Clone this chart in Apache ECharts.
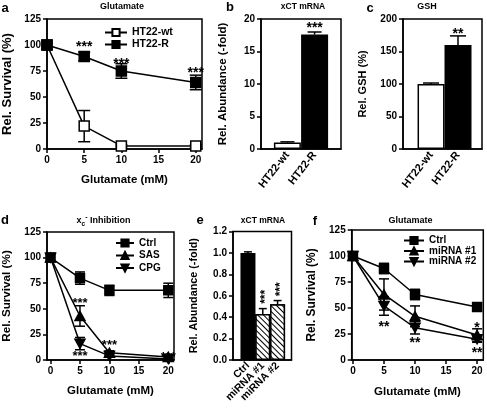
<!DOCTYPE html>
<html><head><meta charset="utf-8">
<script src="https://cdn.jsdelivr.net/npm/echarts@6/dist/echarts.min.js"></script>
<style>html,body{margin:0;padding:0;background:#fff}#c{width:487px;height:409px}</style>
</head><body><div id="c"></div>
<script>
// ---------- data ----------
const ticksX = [0, 5, 10, 15, 20];
// panel a
const concA = [0, 5, 10, 20];
const wtA = [100, 22, 3, 3];
const wtAErr = [0, 15, 1, 1];
const rA = [100, 89, 75, 64];
const rAErr = [0, 4, 7, 7];
const starAX = [5, 10, 20];
const starAY = [101, 85, 76];
const starAText = ['***', '***', '***'];
// panel b
const catsB = ['HT22-wt', 'HT22-R'];
const valB = [1.0, 17.6];
const errB = [0.1, 0.4];
const starBX = [2];
const starBY = [19.1];
const starBText = ['***'];
// panel c
const catsC = ['HT22-wt', 'HT22-R'];
const valC = [100, 160];
const errC = [1.5, 14];
const starCX = [2];
const starCY = [181];
const starCText = ['**'];
// panel d
const concD = [0, 5, 10, 20];
const ctrlD = [100, 80, 68, 68];
const ctrlDErr = [0, 6, 5, 7];
const sasD = [100, 43, 7, 3];
const sasDErr = [0, 10, 2, 1];
const cpgD = [100, 16, 4, 1];
const cpgDErr = [0, 6, 1, 1];
const starDX = [5, 5, 10, 20];
const starDY = [58, 6, 17, 5];
const starDText = ['***', '***', '***', '***'];
// panel e
const catsE = ['Ctrl', 'miRNA #1', 'miRNA #2'];
const valE = [1.0, 0.43, 0.52];
const errE = [0.01, 0.05, 0.035];
const starEX = [2, 3];
const starEY = [0.59, 0.66];
const starEText = ['***', '***'];
// panel f
const concF = [0, 5, 10, 20];
const ctrlF = [100, 88, 63, 51];
const ctrlFErr = [0, 5, 5, 4];
const m1F = [100, 63, 42, 24];
const m1FErr = [0, 15, 10, 6];
const m2F = [100, 52, 31, 20];
const m2FErr = [0, 9, 6, 3];
const starFX = [5, 10, 20, 20];
const starFY = [35, 19, 34, 10];
const starFText = ['**', '**', '*', '**'];

// ---------- helpers ----------
const FONT = '"Liberation Sans", Arial, Helvetica, sans-serif';
const LW = 1.5;

function grid(left, top, width, height) {
  return {left, top, width, height, show: true, borderColor: '#000', borderWidth: LW, backgroundColor: 'transparent', containLabel: false};
}
function yAx(gi, min, max, interval, name, nameGap, nameSize, fmt) {
  return {type: 'value', gridIndex: gi, min, max, interval, name, nameLocation: 'middle', nameGap,
    nameTextStyle: {fontSize: nameSize, fontWeight: 'bold', color: '#000', fontFamily: FONT},
    axisLine: {show: true, onZero: false, lineStyle: {color: '#000', width: LW}},
    axisTick: {show: true, length: 4, lineStyle: {color: '#000', width: LW}},
    axisLabel: {fontSize: 10, fontWeight: 'bold', color: '#000', margin: 6, fontFamily: FONT, formatter: fmt},
    splitLine: {show: false}};
}
function xLine(gi, min, max, name, nameGap) {
  return {type: 'value', gridIndex: gi, min, max, name, nameLocation: 'middle', nameGap, position: 'bottom',
    nameTextStyle: {fontSize: 11.5, fontWeight: 'bold', color: '#000', fontFamily: FONT},
    axisLine: {show: true, onZero: false, lineStyle: {color: '#000', width: LW}},
    axisTick: {show: true, length: 4, customValues: ticksX, lineStyle: {color: '#000', width: LW}},
    axisLabel: {fontSize: 10, fontWeight: 'bold', color: '#000', margin: 6, fontFamily: FONT, customValues: ticksX,
      formatter: v => (ticksX.indexOf(v) >= 0 ? String(v) : '')},
    splitLine: {show: false}};
}
// bar panel x axis; `only` restricts the labels to one position so rotated labels never get culled
function xBar(gi, min, max, cats, rotate, fontSize, only, showLine) {
  const pos = only ? [only] : cats.map((c, i) => i + 1);
  return {type: 'value', gridIndex: gi, min, max, show: true, position: 'bottom', offset: 0,
    axisLine: {show: showLine !== false, onZero: false, lineStyle: {color: '#000', width: LW}},
    axisTick: {show: false},
    axisLabel: {fontSize, fontWeight: 'bold', color: '#000', margin: 4, rotate, fontFamily: FONT, customValues: pos,
      hideOverlap: false, showMinLabel: true, showMaxLabel: true,
      formatter: v => (Number.isInteger(v) && v >= 1 && v <= cats.length ? cats[v - 1] : '')},
    splitLine: {show: false}};
}
function lineSeries(name, gi, xs, ys, symbol, filled, rotate, size) {
  return {type: 'line', name, xAxisIndex: gi, yAxisIndex: gi, data: xs.map((x, i) => [x, ys[i]]),
    symbol, symbolSize: size, symbolRotate: rotate || 0, showSymbol: true,
    itemStyle: {color: filled ? '#000' : '#fff', borderColor: '#000', borderWidth: LW},
    lineStyle: {color: '#000', width: LW}, z: 3, emphasis: {disabled: true}};
}
function errSeries(gi, xs, ms, es, cap, upperOnly) {
  return {type: 'custom', xAxisIndex: gi, yAxisIndex: gi, data: xs.map((x, i) => [x, ms[i], es[i]]),
    encode: {x: 0, y: 1}, z: upperOnly ? 4 : 2, silent: true,
    renderItem: (params, api) => {
      const x = api.value(0), m = api.value(1), e = api.value(2);
      if (!e) return null;
      const t = api.coord([x, m + e]);
      const b = api.coord([x, upperOnly ? m : m - e]);
      const st = {stroke: '#000', lineWidth: LW};
      const ch = [
        {type: 'line', shape: {x1: t[0], y1: t[1], x2: b[0], y2: b[1]}, style: st},
        {type: 'line', shape: {x1: t[0] - cap, y1: t[1], x2: t[0] + cap, y2: t[1]}, style: st}
      ];
      if (!upperOnly) ch.push({type: 'line', shape: {x1: b[0] - cap, y1: b[1], x2: b[0] + cap, y2: b[1]}, style: st});
      return {type: 'group', children: ch};
    }};
}
function starSeries(gi, xs, ys, texts, fs, rot) {
  return {type: 'custom', xAxisIndex: gi, yAxisIndex: gi, data: xs.map((x, i) => [x, ys[i]]),
    encode: {x: 0, y: 1}, z: 5, silent: true,
    renderItem: (params, api) => {
      const p = api.coord([api.value(0), api.value(1)]);
      const off = 0.22 * fs;
      return {type: 'text', x: p[0] + (rot ? off : 0), y: p[1] + (rot ? 0 : off), rotation: rot || 0,
        style: {text: texts[params.dataIndex], fontSize: fs, fontFamily: FONT, fontWeight: 'bold', fill: '#000', align: 'center', verticalAlign: 'middle'}};
    }};
}
function barSeries(name, gi, vals, colors, decals, bw) {
  return {type: 'bar', name, xAxisIndex: gi, yAxisIndex: gi, barWidth: bw,
    data: vals.map((v, i) => ({value: [i + 1, v], itemStyle: {color: colors[i], decal: decals ? decals[i] : null}})),
    itemStyle: {borderColor: '#000', borderWidth: LW}, z: 2, emphasis: {disabled: true}};
}
const hatch = {symbol: 'rect', symbolSize: 1, color: '#000', backgroundColor: '#fff', dashArrayX: [1, 0], dashArrayY: [1, 2.2], rotation: Math.PI / 4};

function legend(names, left, top, gap, fs, w) {
  return {data: names, orient: 'vertical', left, top, itemWidth: w, itemHeight: 9, itemGap: gap, padding: 0,
    selectedMode: false, textStyle: {fontSize: fs, fontWeight: 'bold', color: '#000', fontFamily: FONT}};
}
function txt(x, y, text, size, align) {
  return {type: 'text', x, y, silent: true,
    style: {text, fontSize: size, fontWeight: 'bold', fontFamily: FONT, fill: '#000', align: align || 'center', verticalAlign: 'middle'}};
}

const option = {
  animation: false,
  backgroundColor: '#fff',
  grid: [
    grid(40, 19, 162, 130),
    grid(261, 19, 80, 130),
    grid(403, 19, 79, 130),
    grid(41.7, 232, 132.3, 128),
    grid(233, 231.5, 58.5, 128.5),
    grid(351.7, 230, 131.6, 130)
  ],
  xAxis: [
    xLine(0, 0, 20.84, 'Glutamate (mM)', 25),
    xBar(1, 0.03, 2.97, catsB, 52, 11),
    xBar(2, -0.04, 2.89, catsC, 52, 11),
    xLine(3, -0.6, 20.97, 'Glutamate (mM)', 25),
    xBar(4, -0.01, 3.94, catsE, 45, 10.5, 1, true),
    xLine(5, -0.2, 21.0, 'Glutamate (mM)', 26),
    xBar(4, -0.01, 3.94, catsE, 45, 10.5, 2, false),
    xBar(4, -0.01, 3.94, catsE, 45, 10.5, 3, false)
  ],
  yAxis: [
    yAx(0, 0, 125, 25, 'Rel. Survival (%)', 33, 13),
    yAx(1, 0, 20, 5, 'Rel. Abundance (-fold)', 32, 11.5),
    yAx(2, 0, 200, 50, 'Rel. GSH (%)', 35, 11),
    yAx(3, 0, 125, 25, 'Rel. Survival (%)', 34, 11.7),
    yAx(4, 0, 1.2, 0.2, 'Rel. Abundance (-fold)', 33, 10.8, v => v.toFixed(1)),
    yAx(5, 0, 125, 25, 'Rel. Survival (%)', 34, 11.9)
  ],
  legend: [
    legend(['HT22-wt', 'HT22-R'], 104, 27, 1, 10.5, 22),
    legend(['Ctrl', 'SAS', 'CPG'], 115, 238, 2.5, 10, 18),
    legend(['Ctrl ', 'miRNA #1', 'miRNA #2'], 403, 235.5, 0.5, 10, 20)
  ],
  graphic: [
    txt(5, 8, 'a', 13), txt(230, 7, 'b', 13), txt(370, 8, 'c', 13),
    txt(5, 220, 'd', 13), txt(200, 220, 'e', 13), txt(315, 221, 'f', 13),
    txt(122, 7, 'Glutamate', 9), txt(303, 7, 'xCT mRNA', 8.5), txt(427, 7, 'GSH', 9),
    {type: 'text', x: 103.5, y: 221, silent: true,
      style: {text: '{m|x}{s|c}{p|-}{m| Inhibition}', align: 'center', verticalAlign: 'middle', fill: '#000',
        rich: {
          m: {fontSize: 9, fontWeight: 'bold', fontFamily: FONT, fill: '#000', verticalAlign: 'middle', lineHeight: 14},
          s: {fontSize: 6.5, fontWeight: 'bold', fontFamily: FONT, fill: '#000', verticalAlign: 'bottom', lineHeight: 14},
          p: {fontSize: 7, fontWeight: 'bold', fontFamily: FONT, fill: '#000', verticalAlign: 'top', lineHeight: 14}
        }}},
    txt(263, 221, 'xCT mRNA', 8.5), txt(410.5, 221, 'Glutamate', 9)
  ],
  series: [
    // a
    errSeries(0, concA, wtA, wtAErr, 6, false),
    errSeries(0, concA, rA, rAErr, 6, false),
    lineSeries('HT22-wt', 0, concA, wtA, 'rect', false, 0, 10),
    lineSeries('HT22-R', 0, concA, rA, 'rect', true, 0, 10),
    starSeries(0, starAX, starAY, starAText, 14),
    // b
    barSeries('xCT b', 1, valB, ['#fff', '#000'], null, 27),
    errSeries(1, [1, 2], valB, errB, 7, true),
    starSeries(1, starBX, starBY, starBText, 14),
    // c
    barSeries('GSH c', 2, valC, ['#fff', '#000'], null, 27),
    errSeries(2, [1, 2], valC, errC, 8, true),
    starSeries(2, starCX, starCY, starCText, 14),
    // d
    errSeries(3, concD, ctrlD, ctrlDErr, 5, false),
    errSeries(3, concD, sasD, sasDErr, 5, false),
    errSeries(3, concD, cpgD, cpgDErr, 5, false),
    lineSeries('Ctrl', 3, concD, ctrlD, 'rect', true, 0, 9),
    lineSeries('SAS', 3, concD, sasD, 'triangle', true, 0, [10, 9]),
    lineSeries('CPG', 3, concD, cpgD, 'triangle', true, 180, [10, 9]),
    starSeries(3, starDX, starDY, starDText, 13),
    // e
    barSeries('xCT e', 4, valE, ['#000', '#fff', '#fff'], [null, hatch, hatch], 15),
    errSeries(4, [1, 2, 3], valE, errE, 4, true),
    starSeries(4, starEX, starEY, starEText, 12, Math.PI / 2),
    // f
    errSeries(5, concF, ctrlF, ctrlFErr, 5, false),
    errSeries(5, concF, m1F, m1FErr, 5, false),
    errSeries(5, concF, m2F, m2FErr, 5, false),
    lineSeries('Ctrl ', 5, concF, ctrlF, 'rect', true, 0, 9),
    lineSeries('miRNA #1', 5, concF, m1F, 'triangle', true, 0, [10, 9]),
    lineSeries('miRNA #2', 5, concF, m2F, 'triangle', true, 180, [10, 9]),
    starSeries(5, starFX, starFY, starFText, 14)
  ]
};
const chart = echarts.init(document.getElementById('c'), null, {renderer: 'canvas'});
chart.setOption(option);
</script></body></html>
